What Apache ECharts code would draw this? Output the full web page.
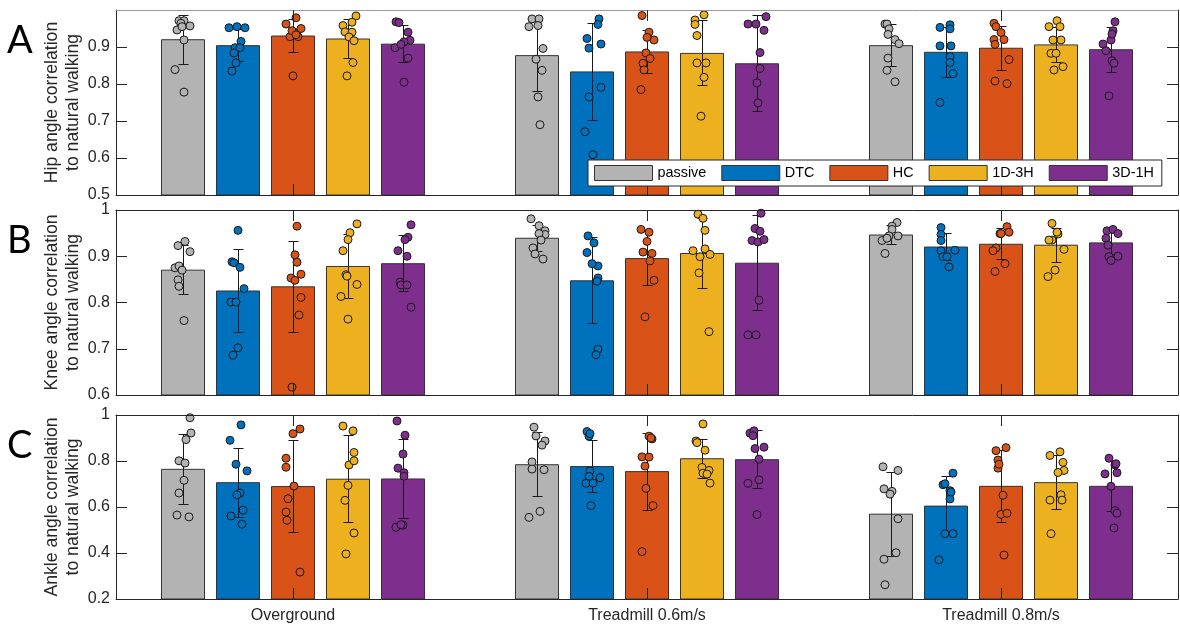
<!DOCTYPE html>
<html>
<head>
<meta charset="utf-8">
<script src="https://cdn.jsdelivr.net/npm/echarts@6/dist/echarts.min.js"></script>
<style>
  html, body { margin: 0; padding: 0; background: #fff; }
  #chart { width: 1180px; height: 624px; }
</style>
</head>
<body>
<div id="chart"></div>
<script>
// ---- data ----
const groups = ['Overground', 'Treadmill 0.6m/s', 'Treadmill 0.8m/s'];
const conditions = ['passive', 'DTC', 'HC', '1D-3H', '3D-1H'];

const hipTicks = [0.5, 0.6, 0.7, 0.8, 0.9];
const kneeTicks = [0.6, 0.7, 0.8, 0.9, 1];
const ankleTicks = [0.2, 0.4, 0.6, 0.8, 1];

// mean and SD per [group][condition]
const hipMean = [
  [0.921, 0.905, 0.931, 0.923, 0.909],
  [0.878, 0.834, 0.888, 0.884, 0.856],
  [0.905, 0.887, 0.898, 0.907, 0.894]
];
const hipSD = [
  [0.066, 0.043, 0.044, 0.053, 0.050],
  [0.098, 0.130, 0.059, 0.088, 0.130],
  [0.056, 0.068, 0.060, 0.048, 0.061]
];
// individual subjects per [group][condition]
const hipVals = [
  [[0.971, 0.971, 0.964, 0.957, 0.946, 0.955, 0.919, 0.839, 0.778],
   [0.952, 0.955, 0.952, 0.915, 0.898, 0.898, 0.884, 0.857, 0.835],
   [0.979, 0.962, 0.950, 0.940, 0.928, 0.928, 0.822, 0.944, 0.933],
   [0.984, 0.967, 0.958, 0.941, 0.940, 0.927, 0.917, 0.858, 0.822],
   [0.968, 0.966, 0.940, 0.918, 0.914, 0.898, 0.907, 0.870, 0.805]],
  [[0.976, 0.976, 0.955, 0.958, 0.896, 0.867, 0.837, 0.765, 0.690],
   [0.976, 0.961, 0.923, 0.908, 0.897, 0.791, 0.765, 0.671, 0.609],
   [0.985, 0.940, 0.919, 0.926, 0.884, 0.869, 0.856, 0.838, 0.785],
   [0.987, 0.973, 0.961, 0.931, 0.857, 0.857, 0.818, 0.713],
   [0.962, 0.962, 0.982, 0.945, 0.885, 0.842, 0.803, 0.749, 0.574]],
  [[0.962, 0.962, 0.949, 0.934, 0.920, 0.909, 0.870, 0.837, 0.806],
   [0.953, 0.960, 0.949, 0.903, 0.903, 0.874, 0.858, 0.828, 0.750],
   [0.964, 0.955, 0.939, 0.920, 0.920, 0.907, 0.866, 0.808, 0.801],
   [0.971, 0.955, 0.955, 0.919, 0.919, 0.883, 0.883, 0.847, 0.838],
   [0.968, 0.944, 0.908, 0.919, 0.890, 0.863, 0.856, 0.768, 0.935]]
];
// horizontal jitter of each subject dot (px)
const hipJit = [
  [[-4, 1, -2, 7, -6, -1, 1, -8, 1],
   [-9, -1, 7, 3, -3, 2, -4, -2, -6],
   [3, -7, 8, 1, -3, 5, 0, -1, 3],
   [8, 4, -5, -3, 4, 1, 6, 5, -1],
   [-7, -4, 5, 7, 1, -8, -2, 5, 1]],
  [[-5, 2, -8, 1, 6, -1, 5, 1, 3],
   [7, 6, -5, 9, -3, 9, -3, -7, 1],
   [-5, 2, 7, 0, -1, 3, -4, -3, -6],
   [2, -7, -7, -5, -5, 4, 2, -1],
   [-9, -1, 9, 7, 3, 3, 0, 1, -2]],
  [[-6, -4, -2, -3, 4, 8, -3, -4, 4],
   [-6, 4, 4, -6, 5, 4, 4, 7, -6],
   [-7, -5, 0, -7, 3, -6, 8, -6, 6],
   [1, -7, 4, -3, 5, -5, 0, 7, -2],
   [4, 2, -8, 0, -5, 1, 3, -2, 1]]
];

const kneeMean = [
  [0.871, 0.826, 0.835, 0.879, 0.885],
  [0.940, 0.848, 0.896, 0.907, 0.886],
  [0.947, 0.921, 0.927, 0.925, 0.930]
];
const kneeSD = [
  [0.053, 0.089, 0.098, 0.069, 0.060],
  [0.028, 0.093, 0.058, 0.076, 0.103],
  [0.021, 0.029, 0.034, 0.037, 0.025]
];
const kneeVals = [
  [[0.923, 0.932, 0.910, 0.875, 0.879, 0.870, 0.849, 0.835, 0.761],
   [0.956, 0.888, 0.886, 0.876, 0.830, 0.801, 0.801, 0.702, 0.686],
   [0.965, 0.903, 0.887, 0.853, 0.861, 0.848, 0.811, 0.773, 0.617],
   [0.970, 0.951, 0.936, 0.912, 0.860, 0.857, 0.839, 0.813, 0.764],
   [0.968, 0.941, 0.936, 0.912, 0.900, 0.844, 0.838, 0.838, 0.790]],
  [[0.981, 0.966, 0.955, 0.947, 0.918, 0.905, 0.894, 0.949, 0.935],
   [0.944, 0.929, 0.908, 0.879, 0.853, 0.846, 0.699, 0.687, 0.884],
   [0.958, 0.952, 0.932, 0.909, 0.906, 0.890, 0.848, 0.769],
   [0.991, 0.982, 0.956, 0.912, 0.916, 0.904, 0.899, 0.864, 0.737],
   [0.993, 0.960, 0.954, 0.934, 0.931, 0.936, 0.805, 0.730, 0.730]],
  [[0.973, 0.965, 0.958, 0.944, 0.944, 0.934, 0.906, 0.939],
   [0.962, 0.947, 0.934, 0.912, 0.913, 0.899, 0.899, 0.877],
   [0.964, 0.952, 0.949, 0.949, 0.918, 0.912, 0.884, 0.867],
   [0.971, 0.948, 0.935, 0.935, 0.915, 0.870, 0.856, 0.952],
   [0.955, 0.958, 0.949, 0.939, 0.924, 0.899, 0.900, 0.891]]
];
const kneeJit = [
  [[-5, 2, 7, -8, -4, -1, -5, -4, 1],
   [0, -6, -4, 2, 6, -7, -2, 0, -5],
   [4, 2, 4, -2, 8, 2, 8, 6, -1],
   [9, 2, 0, -5, -2, -1, 9, -7, 0],
   [8, 5, 2, -5, 4, -3, -2, 4, 8]],
  [[-6, 2, 8, 8, -4, -2, 6, 2, 4],
   [-4, 2, -5, 6, 6, 5, 6, 4, 0],
   [-6, 2, 0, -4, 5, 3, 7, -2],
   [-4, 1, 3, -9, 3, 8, -2, -3, 7],
   [4, -2, 3, -5, 1, 7, 2, -9, -1]],
  [[6, 1, 1, 7, -2, -9, -6, -4],
   [-5, -5, -5, -5, 9, -3, 1, 3],
   [6, 8, -1, 0, -5, -8, 4, -6],
   [-4, 2, -4, -7, 8, -1, -8, 1],
   [-4, 2, 7, -5, -3, -2, 7, 0]]
];

const ankleMean = [
  [0.766, 0.708, 0.691, 0.723, 0.724],
  [0.786, 0.778, 0.756, 0.812, 0.808],
  [0.571, 0.606, 0.692, 0.708, 0.692]
];
const ankleSD = [
  [0.153, 0.150, 0.199, 0.190, 0.173],
  [0.139, 0.113, 0.167, 0.085, 0.125],
  [0.182, 0.128, 0.157, 0.117, 0.108]
];
const ankleVals = [
  [[0.988, 0.922, 0.893, 0.801, 0.791, 0.716, 0.661, 0.565, 0.557],
   [0.957, 0.890, 0.786, 0.757, 0.661, 0.653, 0.586, 0.561, 0.525],
   [0.939, 0.919, 0.812, 0.773, 0.691, 0.636, 0.578, 0.542, 0.317],
   [0.952, 0.931, 0.837, 0.783, 0.801, 0.694, 0.629, 0.487, 0.396],
   [0.974, 0.912, 0.830, 0.769, 0.749, 0.734, 0.512, 0.521, 0.523]],
  [[0.947, 0.909, 0.887, 0.869, 0.796, 0.765, 0.762, 0.581, 0.555],
   [0.928, 0.908, 0.757, 0.733, 0.727, 0.703, 0.606, 0.919, 0.704],
   [0.908, 0.896, 0.818, 0.817, 0.778, 0.681, 0.606, 0.406, 0.900],
   [0.961, 0.887, 0.847, 0.772, 0.759, 0.747, 0.743, 0.704, 0.880],
   [0.921, 0.931, 0.854, 0.860, 0.808, 0.703, 0.718, 0.567, 0.910]],
  [[0.775, 0.759, 0.679, 0.668, 0.656, 0.549, 0.401, 0.373, 0.262],
   [0.747, 0.697, 0.701, 0.671, 0.635, 0.484, 0.484, 0.370, 0.665],
   [0.858, 0.845, 0.804, 0.769, 0.651, 0.568, 0.573, 0.391, 0.786],
   [0.824, 0.840, 0.794, 0.759, 0.653, 0.630, 0.630, 0.484, 0.750],
   [0.812, 0.783, 0.788, 0.744, 0.749, 0.690, 0.584, 0.573, 0.509]]
];
const ankleJit = [
  [[7, 8, 3, -4, 2, 1, -4, -6, 6],
   [3, -8, -2, 9, 2, -1, 5, -7, 4],
   [7, 0, -7, -7, 1, -5, -7, -6, 7],
   [-5, 5, 6, 1, 6, 0, -3, 6, -2],
   [-6, 2, 0, -5, 1, 1, -7, 0, -2]],
  [[-3, -1, 8, 5, -5, -5, 7, 3, -8],
   [-5, -3, -2, -3, 8, -6, -1, -2, 1],
   [2, 5, -5, 2, -2, -1, 6, -5, 4],
   [1, -6, 3, 0, 7, 1, 5, 8, -5],
   [-7, -3, -2, 7, 2, -9, 2, 0, -4]],
  [[-8, 7, -7, 1, -1, 7, 5, -7, -6],
   [7, -3, -1, 4, 4, -1, 7, -7, 5],
   [5, -5, -3, -3, 2, 0, 6, 3, -2],
   [-6, 4, 7, 8, 5, -6, 6, -5, 2],
   [-2, 4, 5, -6, 6, 0, 4, 6, 3]]
];

// ---- layout & style ----
const colors = ['#b3b3b3', '#0072bd', '#d95319', '#edb120', '#7e2f8e'];
const INK = '#262626';
const FONT = 'Liberation Sans, Arial, sans-serif';
const W = 1180;
const GRID_LEFT = 116, GRID_RIGHT = 2, GRID_H = 185;
const PLOT_W = W - GRID_LEFT - GRID_RIGHT;
const BAND = PLOT_W / groups.length;
const BAR_W = 44, BAR_STEP = 55;

const panels = [
  { letter: 'A', top: 10, min: 0.5, max: 1, ticks: hipTicks, mean: hipMean, sd: hipSD, vals: hipVals, jit: hipJit,
    name: 'Hip angle correlation\nto natural walking', frame: '#9a9a9a' },
  { letter: 'B', top: 210, min: 0.6, max: 1, ticks: kneeTicks, mean: kneeMean, sd: kneeSD, vals: kneeVals, jit: kneeJit,
    name: 'Knee angle correlation\nto natural walking', frame: INK },
  { letter: 'C', top: 415, min: 0.2, max: 1, ticks: ankleTicks, mean: ankleMean, sd: ankleSD, vals: ankleVals, jit: ankleJit,
    name: 'Ankle angle correlation\nto natural walking', frame: INK }
];

const offsetOf = (k) => (k - (conditions.length - 1) / 2) * BAR_STEP;

const grid = [], xAxis = [], yAxis = [], series = [], graphic = [];

panels.forEach((p, pi) => {
  grid.push({ left: GRID_LEFT, right: GRID_RIGHT, top: p.top, height: GRID_H, containLabel: false });

  const tick = { show: true, inside: true, length: 11, lineStyle: { color: INK, width: 1 } };
  // bottom category axis (bars + group ticks)
  xAxis.push({
    type: 'category', gridIndex: pi, data: groups, position: 'bottom', z: 6,
    axisLine: { show: true, lineStyle: { color: INK, width: 1 } },
    axisTick: Object.assign({ alignWithLabel: true }, tick),
    axisLabel: { show: pi === panels.length - 1, fontSize: 16, fontFamily: FONT, color: INK, margin: 9 },
    splitLine: { show: false }
  });
  // top frame
  xAxis.push({
    type: 'category', gridIndex: pi, data: groups, position: 'top', z: 6,
    axisLine: { show: true, lineStyle: { color: p.frame, width: 1 } },
    axisTick: Object.assign({ alignWithLabel: true }, tick),
    axisLabel: { show: false }, splitLine: { show: false }
  });
  // continuous axis for dots and error bars
  xAxis.push({ type: 'value', gridIndex: pi, min: 0.5, max: groups.length + 0.5, show: false });

  yAxis.push({
    type: 'value', gridIndex: pi, min: p.min, max: p.max, position: 'left', z: 6,
    axisLine: { show: true, lineStyle: { color: INK, width: 1 } },
    axisTick: Object.assign({ customValues: p.ticks }, tick),
    axisLabel: { customValues: p.ticks, fontSize: 16, fontFamily: FONT, color: INK, margin: 6 },
    splitLine: { show: false },
    name: p.name, nameLocation: 'middle', nameGap: 33, nameMoveOverlap: false,
    nameTextStyle: { fontSize: 17.6, fontFamily: FONT, color: INK, lineHeight: 20.5 }
  });
  yAxis.push({
    type: 'value', gridIndex: pi, min: p.min, max: p.max, position: 'right', z: 6,
    axisLine: { show: true, lineStyle: { color: INK, width: 1 } },
    axisTick: Object.assign({ customValues: p.ticks }, tick),
    axisLabel: { show: false }, splitLine: { show: false }
  });

  const xb = pi * 3, xv = pi * 3 + 2, yl = pi * 2;

  conditions.forEach((c, k) => {
    series.push({
      type: 'bar', name: c, xAxisIndex: xb, yAxisIndex: yl,
      barWidth: BAR_W, barGap: ((BAR_STEP - BAR_W) / BAR_W * 100) + '%',
      itemStyle: { color: colors[k], borderColor: '#333', borderWidth: 1 },
      data: groups.map((g, gi) => p.mean[gi][k]),
      z: 2, silent: true
    });
  });

  const errData = [];
  groups.forEach((g, gi) => conditions.forEach((c, k) => {
    errData.push([gi + 1 + offsetOf(k) / BAND, p.mean[gi][k], p.sd[gi][k]]);
  }));
  series.push({
    type: 'custom', name: 'sd-' + p.letter, xAxisIndex: xv, yAxisIndex: yl, z: 3, clip: true, silent: true,
    data: errData,
    renderItem: (params, api) => {
      const x = api.value(0), m = api.value(1), s = api.value(2);
      const t = api.coord([x, m + s]);
      const b = api.coord([x, m - s]);
      const cx = Math.round(t[0]) + 0.5;
      const ty = Math.round(t[1]) + 0.5, by = Math.round(b[1]) + 0.5;
      const hw = 5;
      const st = { stroke: '#1a1a1a', lineWidth: 1 };
      return {
        type: 'group', children: [
          { type: 'line', shape: { x1: cx, y1: ty, x2: cx, y2: by }, style: st },
          { type: 'line', shape: { x1: cx - hw, y1: ty, x2: cx + hw, y2: ty }, style: st },
          { type: 'line', shape: { x1: cx - hw, y1: by, x2: cx + hw, y2: by }, style: st }
        ]
      };
    }
  });

  conditions.forEach((c, k) => {
    const pts = [];
    groups.forEach((g, gi) => {
      p.vals[gi][k].forEach((v, j) => {
        pts.push([gi + 1 + (offsetOf(k) + p.jit[gi][k][j]) / BAND, v]);
      });
    });
    series.push({
      type: 'scatter', name: c + ' subjects', xAxisIndex: xv, yAxisIndex: yl, z: 4, silent: true,
      symbol: 'circle', symbolSize: 8,
      itemStyle: { color: colors[k], borderColor: '#1a1a1a', borderWidth: 1, opacity: 1 },
      data: pts
    });
  });

  graphic.push({
    type: 'text', left: 7, top: p.top + 12, z: 10,
    style: { text: p.letter, font: '38px Lato, "Open Sans", sans-serif', fill: '#000' }
  });
});

const chart = echarts.init(document.getElementById('chart'), null, { renderer: 'canvas' });
chart.setOption({
  animation: false,
  backgroundColor: '#fff',
  grid, xAxis, yAxis, series, graphic,
  legend: {
    data: conditions, left: 588, top: 160, z: 20,
    orient: 'horizontal', icon: 'rect',
    itemWidth: 58, itemHeight: 15, itemGap: 15,
    padding: [5, 8, 5, 6],
    backgroundColor: '#fff', borderColor: INK, borderWidth: 1,
    itemStyle: { borderColor: '#333', borderWidth: 1 },
    textStyle: { fontSize: 14.4, fontFamily: FONT, color: '#000' },
    selectedMode: false
  }
});
</script>
</body>
</html>
